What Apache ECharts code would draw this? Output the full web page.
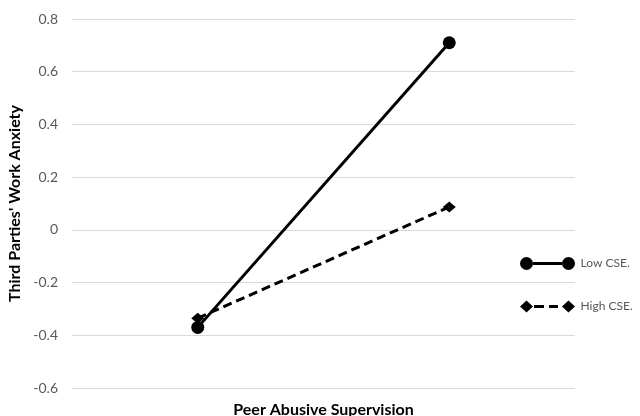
<!DOCTYPE html>
<html><head><meta charset="utf-8">
<script src="https://cdn.jsdelivr.net/npm/echarts@6/dist/echarts.min.js"></script>
<style>html,body{margin:0;padding:0;background:#fff}#c{width:640px;height:416px}</style>
</head><body><div id="c"></div>
<script>
var categories = ['Low', 'High'];
var lowCSE = [-0.37, 0.71];
var highCSE = [-0.335, 0.087];
var seriesNames = ['Low CSE.', 'High CSE.'];
var font = 'Lato, "Open Sans", sans-serif';
var lowIcon = 'path://M0,6.5 A6.5,6.5 0 1 1 13,6.5 A6.5,6.5 0 1 1 0,6.5 Z M13,5 L42,5 L42,8 L13,8 Z M42,6.5 A6.5,6.5 0 1 1 55,6.5 A6.5,6.5 0 1 1 42,6.5 Z';
var highIcon = 'path://M0,6.5 L6.5,0.5 L13,6.5 L6.5,12.5 Z M14,5 L24,5 L24,8 L14,8 Z M29,5 L38,5 L38,8 L29,8 Z M42,6.5 L48.5,0.5 L55,6.5 L48.5,12.5 Z M0,0 L0.01,0 L0.01,0.01 Z M0,13 L0.01,13 L0.01,12.99 Z';
var chart = echarts.init(document.getElementById('c'));
chart.setOption({
  animation: false,
  grid: {left: 72, right: 65, top: 19, bottom: 28, containLabel: false, outerBoundsMode: 'none'},
  legend: {
    orient: 'vertical', left: 520, top: 257, padding: 0, itemGap: 30, itemWidth: 56, itemHeight: 13,
    textStyle: {color: '#595959', fontSize: 12, fontFamily: font},
    data: [{name: seriesNames[0], icon: lowIcon}, {name: seriesNames[1], icon: highIcon}]
  },
  xAxis: {
    type: 'category', data: categories, boundaryGap: true,
    name: 'Peer Abusive Supervision', nameLocation: 'middle', nameGap: 14,
    nameTextStyle: {fontWeight: 'bold', fontSize: 16, color: '#000', fontFamily: font},
    axisLabel: {show: false}, axisTick: {show: false},
    axisLine: {show: false}
  },
  yAxis: {
    type: 'value', min: -0.6, max: 0.8, interval: 0.2,
    name: "Third Parties' Work Anxiety", nameLocation: 'middle', nameGap: 46, nameRotate: 90,
    nameTextStyle: {fontWeight: 'bold', fontSize: 16, color: '#000', fontFamily: font},
    axisLabel: {color: '#595959', fontSize: 14, fontFamily: font, margin: 14,
      formatter: function(v){ return (Math.round(v*10)/10).toString(); }},
    splitLine: {lineStyle: {color: '#d9d9d9', width: 1}},
    axisLine: {show: false}, axisTick: {show: false}
  },
  series: [
    {name: seriesNames[0], type: 'line', data: lowCSE, symbol: 'circle', symbolSize: 13,
     lineStyle: {color: '#000', width: 3}, itemStyle: {color: '#000'}},
    {name: seriesNames[1], type: 'line', data: highCSE, symbol: 'diamond', symbolSize: [13, 11],
     lineStyle: {color: '#000', width: 3, type: [9, 5]}, itemStyle: {color: '#000'}}
  ]
});
</script></body></html>
